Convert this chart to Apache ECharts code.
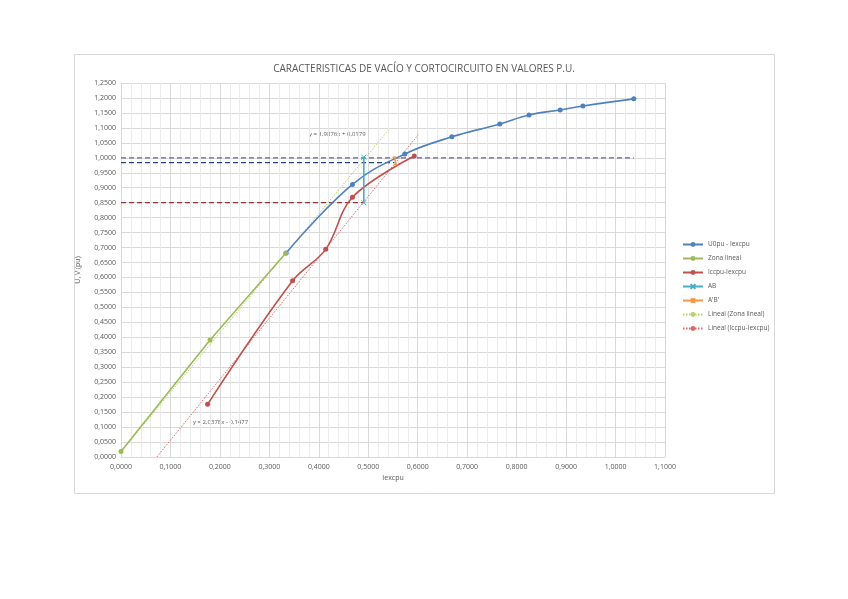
<!DOCTYPE html>
<html>
<head>
<meta charset="utf-8">
<script src="https://cdn.jsdelivr.net/npm/echarts@6/dist/echarts.min.js"></script>
<style>
html,body{margin:0;padding:0;background:#fff;}
#chart{width:848px;height:599px;}
</style>
</head>
<body>
<div id="chart"></div>
<script>
// ---- data ----
const titleText = 'CARACTERISTICAS DE VACÍO Y CORTOCIRCUITO EN VALORES P.U.';
const xTitle = 'Iexcpu';
const yTitle = 'U, V (pu)';
const seriesNames = ['U0pu - Iexcpu', 'Zona lineal', 'Iccpu-Iexcpu', 'AB', "A'B'", 'Lineal (Zona lineal)', 'Lineal (Iccpu-Iexcpu)'];

const vacioX = [0.334, 0.468, 0.574, 0.669, 0.766, 0.825, 0.888, 0.934, 1.037];
const vacioY = [0.682, 0.911, 1.013, 1.070, 1.113, 1.143, 1.160, 1.173, 1.197];

const linealX = [0.000, 0.180, 0.333];
const linealY = [0.018, 0.391, 0.681];

const ccX = [0.175, 0.347, 0.414, 0.468, 0.593];
const ccY = [0.176, 0.589, 0.694, 0.868, 1.006];

const abX = [0.491, 0.491];
const abY = [1.002, 0.850];

const abpX = [0.553, 0.556];
const abpY = [1.002, 0.977];

// trendlines (coefficients as shown on the chart) and their drawn x-range
const trendLinealCoef = [1.9876, 0.0179];
const trendLinealRange = [0.0, 0.54];
const trendCcCoef = [2.0378, -0.1477];
const trendCcRange = [0.0725, 0.601];
const eqLineal = 'y = 1,9876x + 0,0179';
const eqCc = 'y = 2,0378x - 0,1477';

// reference horizontal dashed lines: [y, xEnd]
const refLine1 = [1.000, 1.037];
const refLine2 = [0.984, 0.553];
const refLine3 = [0.850, 0.491];

const xTicks = {min: 0, max: 1.1, interval: 0.1};
const yTicks = {min: 0, max: 1.25, interval: 0.05};

// ---- build ----
function zip(a, b) { return a.map((v, i) => [v, b[i]]); }
function trend(coef, range) { return range.map(x => [x, coef[0] * x + coef[1]]); }
const fmt = v => v.toFixed(4).replace('.', ',');

const chart = echarts.init(document.getElementById('chart'), null, {renderer: 'canvas'});
const FONT = 'Open Sans';
const xMarker = 'path://M0,0L10,10M10,0L0,10';

const option = {
  backgroundColor: '#ffffff',
  animation: false,
  title: {
    text: titleText, left: 'center', top: 59,
    textStyle: {fontFamily: FONT, fontSize: 10, fontWeight: 'normal', color: '#595959'}
  },
  graphic: [
    {type: 'rect', left: 72, top: 52, shape: {width: 700, height: 439}, style: {fill: 'none', stroke: '#D9D9D9', lineWidth: 1}, silent: true, z: -1},
    {type: 'text', left: 309, top: 131, style: {text: eqLineal, font: '6px "Open Sans"', fill: '#595959'}},
    {type: 'text', left: 193, top: 419, style: {text: eqCc, font: '6px "Open Sans"', fill: '#595959'}}
  ],
  legend: {
    orient: 'vertical', left: 682, top: 235,
    itemWidth: 20, itemHeight: 6, itemGap: 5, padding: [5, 5, 5, 0],
    textStyle: {fontFamily: FONT, fontSize: 6.5, color: '#595959', lineHeight: 9},
    data: seriesNames
  },
  grid: {left: 121, top: 83, right: 183, bottom: 142},
  xAxis: {
    type: 'value', min: xTicks.min, max: xTicks.max, interval: xTicks.interval,
    name: xTitle, nameLocation: 'middle', nameGap: 17,
    nameTextStyle: {fontFamily: FONT, fontSize: 7, color: '#595959'},
    axisLine: {show: true, lineStyle: {color: '#D9D9D9'}},
    axisTick: {show: false},
    axisLabel: {formatter: fmt, fontFamily: FONT, fontSize: 7, color: '#595959', margin: 6},
    splitLine: {show: true, lineStyle: {color: '#D9D9D9', width: 1}},
    minorTick: {show: false, splitNumber: 5},
    minorSplitLine: {show: true, lineStyle: {color: '#EBEBEB', width: 1}}
  },
  yAxis: {
    type: 'value', min: yTicks.min, max: yTicks.max, interval: yTicks.interval,
    name: yTitle, nameLocation: 'middle', nameGap: 40, nameRotate: 90,
    nameTextStyle: {fontFamily: FONT, fontSize: 7, color: '#595959'},
    axisLine: {show: true, lineStyle: {color: '#D9D9D9'}},
    axisTick: {show: false},
    axisLabel: {formatter: fmt, fontFamily: FONT, fontSize: 7, color: '#595959', margin: 5},
    splitLine: {show: true, lineStyle: {color: '#D9D9D9', width: 1}}
  },
  series: [
    {name: 'ref1', type: 'line', data: [[0, refLine1[0]], [refLine1[1], refLine1[0]]], symbol: 'none',
     lineStyle: {color: '#6F5C9E', width: 1.2, type: [5, 3]}, silent: true, z: 1},
    {name: 'ref2', type: 'line', data: [[0, refLine2[0]], [refLine2[1], refLine2[0]]], symbol: 'none',
     lineStyle: {color: '#1F497D', width: 1.2, type: [5, 3]}, silent: true, z: 1},
    {name: 'ref3', type: 'line', data: [[0, refLine3[0]], [refLine3[1], refLine3[0]]], symbol: 'none',
     lineStyle: {color: '#943634', width: 1.2, type: [5, 3]}, silent: true, z: 1},
    {name: seriesNames[5], type: 'line', data: trend(trendLinealCoef, trendLinealRange), symbol: 'none',
     itemStyle: {color: '#B8D170'}, lineStyle: {color: '#B8D170', width: 1, type: [1.5, 1.5]}, z: 2},
    {name: seriesNames[6], type: 'line', data: trend(trendCcCoef, trendCcRange), symbol: 'none',
     itemStyle: {color: '#E06666'}, lineStyle: {color: '#E06666', width: 1, type: [1.5, 1.5]}, z: 2},
    {name: seriesNames[0], type: 'line', data: zip(vacioX, vacioY), smooth: 0.4,
     symbol: 'circle', symbolSize: 5, itemStyle: {color: '#4F81BD'}, lineStyle: {color: '#4F81BD', width: 1.6}, z: 3},
    {name: seriesNames[2], type: 'line', data: zip(ccX, ccY), smooth: 0.35,
     symbol: 'circle', symbolSize: 5, itemStyle: {color: '#C0504D'}, lineStyle: {color: '#C0504D', width: 1.6}, z: 3},
    {name: seriesNames[1], type: 'line', data: zip(linealX, linealY),
     symbol: 'circle', symbolSize: 5, itemStyle: {color: '#9BBB59'}, lineStyle: {color: '#9BBB59', width: 1.6}, z: 4},
    {name: seriesNames[3], type: 'line', data: zip(abX, abY),
     symbol: xMarker, symbolSize: 5, itemStyle: {color: '#4BACC6', borderColor: '#4BACC6', borderWidth: 1},
     lineStyle: {color: '#4BACC6', width: 1.6}, z: 5},
    {name: seriesNames[4], type: 'line', data: zip(abpX, abpY),
     symbol: 'rect', symbolSize: [4, 1.5], itemStyle: {color: '#F79646'},
     lineStyle: {color: '#F79646', width: 1.6}, z: 5}
  ]
};
chart.setOption(option);
</script>
</body>
</html>
